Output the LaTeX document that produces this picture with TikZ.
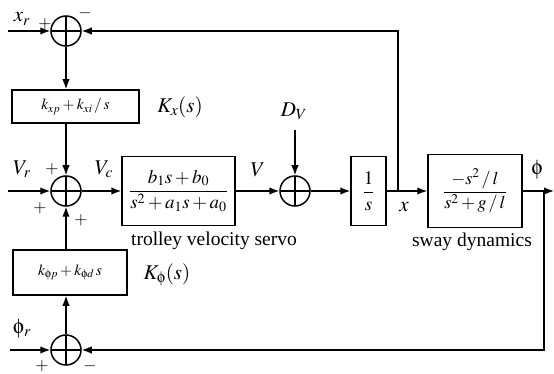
\documentclass[tikz,border=0pt]{standalone}
\usepackage{amsmath}
\usepackage{mathptmx}
\usepackage[Symbol]{upgreek}
\usepackage[no-math]{fontspec}
\setmainfont{Liberation Serif}
\usetikzlibrary{arrows.meta,calc}
\tikzset{
  blk/.style={rectangle, draw, line width=1.5pt, inner sep=0pt, align=center},
  sumnode/.style={circle, draw, line width=1.5pt, minimum size=30pt, inner sep=0pt,
    path picture={\draw[line width=1.2pt] (path picture bounding box.north) -- (path picture bounding box.south)
      (path picture bounding box.west) -- (path picture bounding box.east);}},
  sig/.style={-{Latex[length=10pt,width=7.5pt]}, line width=1.5pt},
  lbl/.style={font=\fontsize{21}{23}\selectfont, inner sep=0pt},
  sgn/.style={font=\fontsize{17}{19}\selectfont, inner sep=0pt},
  captxt/.style={font=\fontsize{19.5}{21}\selectfont, inner sep=0pt},
}

\begin{document}
\begin{tikzpicture}[x=1pt, y=-1pt]
  \useasboundingbox (0,0) rectangle (554,374);

  % Summing junctions
  \node[sumnode] (sumx) at (66,31) {};
  \node[sumnode] (sumv) at (66,191) {};
  \node[sumnode] (sumphi) at (66,350) {};
  \node[sumnode] (sumd) at (295,191) {};

  % Blocks
  \node[blk, minimum width=127pt, minimum height=33pt, font=\fontsize{15.5}{17}\selectfont] (kx) at (75.5,106.5) {$k_{xp} + k_{xi}\,/\,s$};
  \node[blk, minimum width=114pt, minimum height=45pt, font=\fontsize{15.5}{17}\selectfont] (kphi) at (70,272.5) {$k_{\upphi p} + k_{\upphi d}\, s$};
  \node[blk, minimum width=113pt, minimum height=69pt, font=\fontsize{19}{21}\selectfont] (servo) at (178.5,191) {$\dfrac{b_1 s + b_0}{s^2 + a_1 s + a_0}$};
  \node[blk, minimum width=35pt, minimum height=69pt, font=\fontsize{19}{21}\selectfont] (integ) at (368.5,191) {$\dfrac{1}{s}$};
  \node[blk, minimum width=94pt, minimum height=73pt, font=\fontsize{18}{20}\selectfont] (sway) at (475,191) {$\dfrac{-s^2\,/\,l}{s^2 + g\,/\,l}$};

  % Free ends and branch points
  \coordinate (xrin) at (8,31);
  \coordinate (vrin) at (8,191);
  \coordinate (phirin) at (10,350);
  \coordinate (dvin) at (295,130);
  \coordinate (xbr) at (398,191);
  \coordinate (phibr) at (544,191);
  \coordinate (phiout) at (554,191);

  % Signals
  \draw[sig] (xrin) -- (sumx.west);
  \draw[sig] (xbr) |- (sumx.east);
  \draw[sig] (sumx.south) -- (sumx.south |- kx.north);
  \draw[sig] (kx.south -| sumv) -- (sumv.north);
  \draw[sig] (vrin) -- (sumv.west);
  \draw[sig] (sumv.east) -- (servo.west);
  \draw[sig] (servo.east) -- (sumd.west);
  \draw[sig] (dvin) -- (sumd.north);
  \draw[sig] (sumd.east) -- (integ.west);
  \draw[sig] (integ.east) -- (sway.west);
  \draw[sig] (sway.east) -- (phiout);
  \draw[sig] (phibr) |- (sumphi.east);
  \draw[sig] (phirin) -- (sumphi.west);
  \draw[sig] (sumphi.north) -- (sumphi.north |- kphi.south);
  \draw[sig] (kphi.north -| sumv) -- (sumv.south);

  % Signal labels
  \node[lbl] (xr) at (22,19) {$x_r$};
  \node[lbl] (vr) at (22,169) {$V_r$};
  \node[lbl] (vc) at (104,169) {$V_c$};
  \node[lbl] (v) at (258,170) {$V$};
  \node[lbl] (dv) at (294,111) {$D_V$};
  \node[lbl] (xo) at (404,207) {$x$};
  \node[lbl] (phio) at (537,170) {$\upphi$};
  \node[lbl] (phir) at (22,329) {$\upphi_r$};
  \node[lbl] (kxl) at (180,107) {$K_x(s)$};
  \node[lbl] (kphil) at (167,275) {$K_{\upphi}(s)$};

  % Signs
  \node[sgn] (sx1) at (45,24) {$+$};
  \node[sgn] (sx2) at (85,13) {$-$};
  \node[sgn] (sv1) at (52,169) {$+$};
  \node[sgn] (sv2) at (40,208) {$+$};
  \node[sgn] (sv3) at (81,220) {$+$};
  \node[sgn] (sp1) at (42,366) {$+$};
  \node[sgn] (sp2) at (90,366) {$-$};

  % Captions
  \node[captxt] (servocap) at (214,241) {trolley velocity servo};
  \node[captxt] (swaycap) at (472,242) {sway dynamics};
\end{tikzpicture}
\end{document}
